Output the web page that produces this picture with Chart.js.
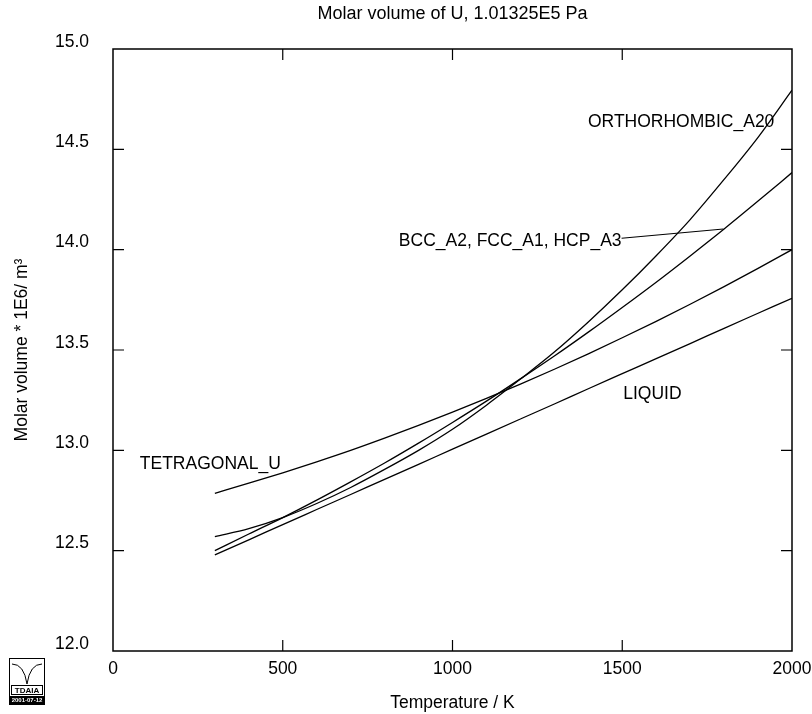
<!DOCTYPE html>
<html>
<head>
<meta charset="utf-8">
<title>Molar volume of U</title>
<script src="https://cdn.jsdelivr.net/npm/chart.js@4.4.1/dist/chart.umd.min.js"></script>
<style>
  html, body { margin: 0; padding: 0; background: #fff; }
  #wrap { width: 812px; height: 714px; }
</style>
</head>
<body>
<div id="wrap"><canvas id="chart" width="812" height="714"></canvas></div>
<script>
/* ---------------------------------------------
   Molar volume of U at 1 atm.
   Temperature in K, volume in 1E-6 m3/mol.
   --------------------------------------------- */
var temps        = [300, 400, 500, 600, 700, 800, 900, 1000, 1100, 1200, 1300, 1400, 1500, 1600, 1700, 1800, 1900, 2000];
var orthorhombic = [12.57, 12.61, 12.665, 12.735, 12.815, 12.905, 13.00, 13.105, 13.225, 13.355, 13.49, 13.64, 13.80, 13.97, 14.15, 14.35, 14.56, 14.795];
var bcc          = [12.50, 12.583, 12.665, 12.752, 12.843, 12.937, 13.036, 13.139, 13.245, 13.356, 13.47, 13.589, 13.712, 13.838, 13.969, 14.103, 14.242, 14.384];
var tetragonal   = [12.786, 12.836, 12.888, 12.943, 13.000, 13.061, 13.124, 13.190, 13.259, 13.330, 13.404, 13.481, 13.561, 13.643, 13.728, 13.816, 13.907, 14.000];
var liquid       = [12.479, 12.554, 12.63, 12.705, 12.78, 12.855, 12.93, 13.006, 13.081, 13.156, 13.231, 13.307, 13.382, 13.457, 13.532, 13.608, 13.683, 13.758];

// axis ranges / tick steps
var xRange = [0, 2000];
var yRange = [12.0, 15.0];
var xStep = 500;
var yStep = 0.5;

// curve labels, anchored in data coordinates
var labelText  = ['ORTHORHOMBIC_A20', 'BCC_A2, FCC_A1, HCP_A3', 'LIQUID', 'TETRAGONAL_U'];
var labelT     = [1399, 1498, 1503, 79];
var labelV     = [14.634, 14.041, 13.281, 12.932];
var labelAlign = ['left', 'right', 'left', 'left'];

// pointer from the BCC label to its curve
var pointerT = [1498, 1798];
var pointerV = [14.057, 14.103];

var FONT = "'Liberation Sans', Arial, sans-serif";

function toPoints(values) {
  return temps.map(function (t, i) { return { x: t, y: values[i] }; });
}

function curve(label, values) {
  return {
    label: label,
    data: toPoints(values),
    borderColor: '#000',
    borderWidth: 1.3,
    pointRadius: 0,
    fill: false,
    cubicInterpolationMode: 'monotone'
  };
}

// frame, inward ticks, curve labels and the little logo
var decorations = {
  id: 'decorations',
  afterDraw: function (chart) {
    var ctx = chart.ctx;
    var a = chart.chartArea;
    var xs = chart.scales.x;
    var ys = chart.scales.y;
    var tick = 11;

    ctx.save();
    ctx.strokeStyle = '#000';
    ctx.lineWidth = 1.5;
    ctx.strokeRect(a.left, a.top, a.right - a.left, a.bottom - a.top);

    ctx.lineWidth = 1.2;
    ctx.beginPath();
    xs.ticks.forEach(function (t) {
      if (t.value <= xRange[0] || t.value >= xRange[1]) return;
      var px = xs.getPixelForValue(t.value);
      ctx.moveTo(px, a.bottom); ctx.lineTo(px, a.bottom - tick);
      ctx.moveTo(px, a.top);    ctx.lineTo(px, a.top + tick);
    });
    ys.ticks.forEach(function (t) {
      if (t.value <= yRange[0] || t.value >= yRange[1]) return;
      var py = ys.getPixelForValue(t.value);
      ctx.moveTo(a.left, py);  ctx.lineTo(a.left + tick, py);
      ctx.moveTo(a.right, py); ctx.lineTo(a.right - tick, py);
    });
    ctx.stroke();

    // pointer line
    ctx.lineWidth = 1.2;
    ctx.beginPath();
    ctx.moveTo(xs.getPixelForValue(pointerT[0]), ys.getPixelForValue(pointerV[0]));
    ctx.lineTo(xs.getPixelForValue(pointerT[1]), ys.getPixelForValue(pointerV[1]));
    ctx.stroke();

    // curve labels
    ctx.fillStyle = '#000';
    ctx.font = '17.5px ' + FONT;
    ctx.textBaseline = 'middle';
    labelText.forEach(function (txt, i) {
      ctx.textAlign = labelAlign[i];
      ctx.fillText(txt, xs.getPixelForValue(labelT[i]), ys.getPixelForValue(labelV[i]));
    });

    // logo in the lower left corner
    ctx.lineWidth = 1;
    ctx.strokeRect(9.5, 658.5, 35, 46);
    ctx.beginPath();
    ctx.moveTo(12, 664);
    ctx.quadraticCurveTo(24, 664, 27, 684);
    ctx.quadraticCurveTo(30, 664, 42, 664);
    ctx.stroke();
    ctx.strokeRect(11.5, 685.5, 31, 9);
    ctx.font = 'bold 8px ' + FONT;
    ctx.textAlign = 'center';
    ctx.fillText('TDAIA', 27, 690.5);
    ctx.fillRect(10, 696, 34, 8);
    ctx.fillStyle = '#fff';
    ctx.font = 'bold 6px ' + FONT;
    ctx.fillText('2001-07-12', 27, 700.5);
    ctx.restore();
  }
};

new Chart(document.getElementById('chart'), {
  type: 'line',
  data: {
    datasets: [
      curve('ORTHORHOMBIC_A20', orthorhombic),
      curve('BCC_A2, FCC_A1, HCP_A3', bcc),
      curve('TETRAGONAL_U', tetragonal),
      curve('LIQUID', liquid)
    ]
  },
  plugins: [decorations],
  options: {
    responsive: false,
    animation: false,
    layout: { padding: { left: 0, right: 20, top: 0, bottom: 0 } },
    plugins: {
      legend: { display: false },
      tooltip: { enabled: false },
      title: {
        display: true,
        text: 'Molar volume of U, 1.01325E5 Pa',
        fullSize: false,
        color: '#000',
        font: { family: FONT, size: 18, weight: 'normal' },
        padding: { top: 3, bottom: 24.4 }
      }
    },
    scales: {
      x: {
        type: 'linear',
        min: xRange[0],
        max: xRange[1],
        grid: { display: false, drawTicks: false },
        border: { display: false },
        ticks: {
          stepSize: xStep,
          padding: 8,
          color: '#000',
          maxRotation: 0,
          font: { family: FONT, size: 17.5 },
          callback: function (v) { return String(v); }
        },
        title: {
          display: true,
          text: 'Temperature / K',
          color: '#000',
          font: { family: FONT, size: 17.5 },
          padding: { top: 0, bottom: 0 }
        },
        afterFit: function (scale) {
          scale.height = 63;
          scale.paddingLeft = 0;
          scale.paddingRight = 0;
        }
      },
      y: {
        type: 'linear',
        min: yRange[0],
        max: yRange[1],
        grid: { display: false, drawTicks: false },
        border: { display: false },
        ticks: {
          stepSize: yStep,
          padding: 24,
          labelOffset: -7,
          color: '#000',
          font: { family: FONT, size: 17.5 },
          callback: function (v) { return v.toFixed(1); }
        },
        title: {
          display: true,
          text: 'Molar volume * 1E6/ m³',
          color: '#000',
          font: { family: FONT, size: 17.5 },
          padding: { top: 11.5, bottom: 0 }
        },
        afterFit: function (scale) {
          scale.width = 113;
          scale.paddingTop = 0;
          scale.paddingBottom = 0;
        }
      }
    }
  }
});
</script>
</body>
</html>
